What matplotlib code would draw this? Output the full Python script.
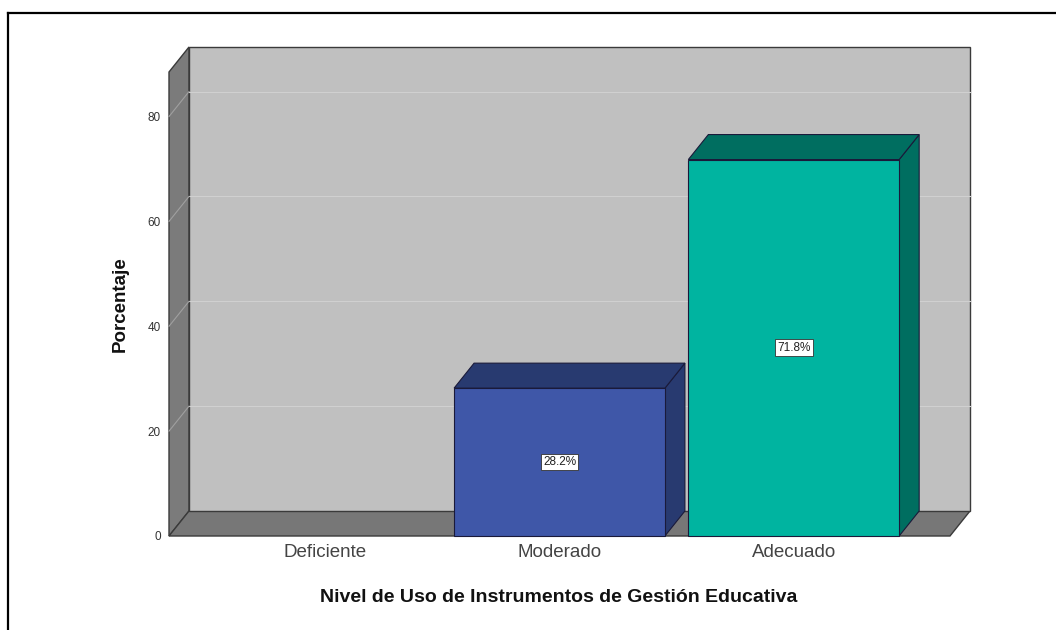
import numpy as np
import matplotlib
matplotlib.use('Agg')
import matplotlib.pyplot as plt
from matplotlib.patches import Polygon, Rectangle
from matplotlib.lines import Line2D

plt.rcParams['font.family'] = ['Liberation Sans', 'DejaVu Sans']

# Data
categorias = ['Deficiente', 'Moderado', 'Adecuado']
porcentajes = [0.0, 28.2, 71.8]
etiquetas = ['', '28.2%', '71.8%']
yticks = [0, 20, 40, 60, 80]

# Colours (front face, top/side face)
frente = ['#3f57a8', '#3f57a8', '#00b4a0']
lado = ['#283a70', '#283a70', '#006e60']

W, H = 1056, 630
fig = plt.figure(figsize=(W / 100, H / 100), dpi=100)
fig.patch.set_facecolor('white')

# front plane of the 3D box in pixels
px0, px1, py0, py1 = 169, 950, 536, 72
ax = fig.add_axes([px0 / W, (H - py0) / H, (px1 - px0) / W, (py0 - py1) / H])
x0, x1 = -0.667, 2.667
ytop = 88.5
ax.set_xlim(x0, x1)
ax.set_ylim(0, ytop)
ax.patch.set_visible(False)
for s in ax.spines.values():
    s.set_visible(False)

# depth offset in data units (about 20 px right, 25 px up)
dx = 20 * (x1 - x0) / (px1 - px0)
dy = 25 * ytop / (py0 - py1)

edge = '#3a3a3a'
# left wall
ax.add_patch(Polygon([(x0, 0), (x0, ytop), (x0 + dx, ytop + dy), (x0 + dx, dy)],
                     closed=True, fc='#7b7b7b', ec=edge, lw=1, clip_on=False, zorder=1))
# floor
ax.add_patch(Polygon([(x0, 0), (x1, 0), (x1 + dx, dy), (x0 + dx, dy)],
                     closed=True, fc='#777777', ec=edge, lw=1, clip_on=False, zorder=1))
# back wall
ax.add_patch(Polygon([(x0 + dx, dy), (x1 + dx, dy), (x1 + dx, ytop + dy), (x0 + dx, ytop + dy)],
                     closed=True, fc='#c0c0c0', ec=edge, lw=1, clip_on=False, zorder=1))

# gridlines on back wall and left wall
for v in yticks[1:]:
    ax.plot([x0 + dx, x1 + dx], [v + dy, v + dy], color='#d0d0d0', lw=0.8,
            clip_on=False, zorder=2)
    ax.plot([x0, x0 + dx], [v, v + dy], color='#a0a0a0', lw=0.8,
            clip_on=False, zorder=2)

# bars
bw = 0.9
for i, v in enumerate(porcentajes):
    if v <= 0:
        continue
    l, r = i - bw / 2, i + bw / 2
    ax.add_patch(Polygon([(r, 0), (r, v), (r + dx, v + dy), (r + dx, dy)],
                         closed=True, fc=lado[i], ec='#1a1a3a', lw=0.8, clip_on=False, zorder=3))
    ax.add_patch(Polygon([(l, v), (r, v), (r + dx, v + dy), (l + dx, v + dy)],
                         closed=True, fc=lado[i], ec='#1a1a3a', lw=0.8, clip_on=False, zorder=3))
    ax.add_patch(Rectangle((l, 0), bw, v, fc=frente[i], ec='#1a1a3a', lw=0.8,
                           clip_on=False, zorder=4))
    ax.text(i, v / 2, etiquetas[i], ha='center', va='center', fontsize=8.5, color='#222222',
            zorder=5, bbox=dict(boxstyle='square,pad=0.2', fc='white', ec='#333333', lw=0.6))

ax.set_yticks(yticks)
ax.set_yticklabels([str(t) for t in yticks], fontsize=8.5, color='#333333')
ax.set_xticks(range(len(categorias)))
ax.set_xticklabels(categorias, fontsize=13.5, color='#444444')
ax.tick_params(axis='both', length=0)
ax.tick_params(axis='y', pad=6)
ax.tick_params(axis='x', pad=6)

ax.set_xlabel('Nivel de Uso de Instrumentos de Gestión Educativa', fontsize=14,
              fontweight='bold', color='#111111', va='center')
ax.xaxis.set_label_coords(0.4994, (536 - 598) / 464)
ax.set_ylabel('Porcentaje', fontsize=13.5, fontweight='bold', color='#111111', va='center')
ax.yaxis.set_label_coords((120 - 169) / 781, 0.5)

# outer frame (top and left edges visible)
fig.add_artist(Line2D([8 / W, 1.0], [(H - 13) / H, (H - 13) / H], transform=fig.transFigure,
                      color='black', lw=1.6))
fig.add_artist(Line2D([8 / W, 8 / W], [0, (H - 13) / H], transform=fig.transFigure,
                      color='black', lw=1.6))

fig.savefig('out.png', dpi=100)
